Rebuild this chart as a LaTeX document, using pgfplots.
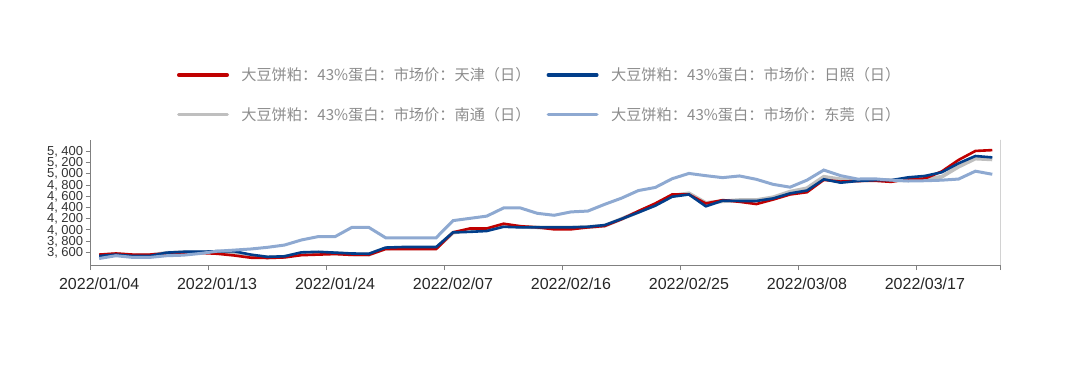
\documentclass[border=0pt]{standalone}
\usepackage{pgfplots}
\pgfplotsset{compat=1.18}
\usepackage{fontspec}
\setmainfont{Liberation Sans}
\newfontfamily\cjk{Noto Sans CJK SC}
\definecolor{cTJ}{HTML}{C00000}
\definecolor{cRZ}{HTML}{023E8A}
\definecolor{cNT}{HTML}{BFBFBF}
\definecolor{cDG}{HTML}{8EA9D1}
\definecolor{axgray}{HTML}{808080}
\definecolor{leggray}{HTML}{8C8C8C}
\begin{document}
\begin{tikzpicture}
\useasboundingbox (0,0) rectangle (1080pt,370pt);
\begin{axis}[
  at={(90.7pt,105pt)}, anchor=south west,
  scale only axis, width=910pt, height=125pt,
  xmin=-0.5, xmax=53.5, ymin=3375, ymax=5600,
  axis x line*=bottom, axis y line*=left,
  axis line style={axgray, line width=0.8pt},
  tick align=outside,
  major tick length=5pt,
  tick style={axgray, line width=0.8pt},
  xtick={-0.5,6.5,13.5,20.5,27.5,34.5,41.5,48.5,53.5},
  xticklabels={},
  extra x ticks={0,7,14,21,28,35,42,49},
  extra x tick labels={2022/01/04,2022/01/13,2022/01/24,2022/02/07,2022/02/16,2022/02/25,2022/03/08,2022/03/17},
  extra x tick style={major tick length=0pt, tick label style={font=\fontsize{16}{16}\selectfont, text=black!85, yshift=-9pt}},
  ytick={3600,3800,4000,4200,4400,4600,4800,5000,5200,5400},
  yticklabels={{3, 600},{3, 800},{4, 000},{4, 200},{4, 400},{4, 600},{4, 800},{5, 000},{5, 200},{5, 400}},
  y tick label style={font=\fontsize{13}{13}\selectfont, text=black!80, xshift=1pt,
    inner ysep=0pt, text height=9pt, text depth=0.5pt},
  legend columns=2,
  legend style={at={(0.4934,1.0)}, anchor=south, yshift=14pt, draw=none, fill=none,
    font=\cjk\fontsize{15.2}{15.2}\selectfont, text=leggray,
    /tikz/every even column/.append style={column sep=14pt},
    row sep=21pt},
  legend cell align=left,
  legend image code/.code={\draw[#1, line cap=round, line width=3.5pt] (1.75pt,0pt) -- (50.25pt,0pt); \path (61pt,0pt);},
]
\addplot[cNT, line width=3.8pt, forget plot] coordinates {
(0,3545)(1,3570)(2,3545)(3,3550)(4,3590)(5,3600)(6,3600)(7,3610)(8,3600)(9,3540)
(10,3510)(11,3520)(12,3580)(13,3590)(14,3585)(15,3565)(16,3560)(17,3670)(18,3675)(19,3675)
(20,3675)(21,3950)(22,3995)(23,4005)(24,4085)(25,4055)(26,4045)(27,4040)(28,4040)(29,4050)
(30,4075)(31,4195)(32,4320)(33,4455)(34,4610)(35,4650)(36,4480)(37,4510)(38,4530)(39,4530)
(40,4580)(41,4680)(42,4740)(43,4945)(44,4900)(45,4880)(46,4890)(47,4880)(48,4885)(49,4900)
(50,4945)(51,5125)(52,5270)(53,5255)};
\addplot[cTJ, line width=2.6pt] coordinates {
(0,3560)(1,3580)(2,3560)(3,3560)(4,3580)(5,3585)(6,3590)(7,3575)(8,3545)(9,3505)
(10,3500)(11,3510)(12,3550)(13,3560)(14,3570)(15,3555)(16,3555)(17,3660)(18,3660)(19,3660)
(20,3660)(21,3956)(22,4025)(23,4025)(24,4110)(25,4065)(26,4045)(27,4010)(28,4010)(29,4045)
(30,4070)(31,4190)(32,4335)(33,4470)(34,4630)(35,4630)(36,4470)(37,4530)(38,4500)(39,4460)
(40,4540)(41,4630)(42,4670)(43,4890)(44,4860)(45,4870)(46,4875)(47,4855)(48,4905)(49,4915)
(50,5040)(51,5245)(52,5405)(53,5420)};
\addlegendentry{大豆饼粕：43\%蛋白：市场价：天津（日）}
\addplot[cRZ, line width=2.6pt] coordinates {
(0,3535)(1,3560)(2,3535)(3,3535)(4,3595)(5,3610)(6,3610)(7,3620)(8,3620)(9,3560)
(10,3520)(11,3530)(12,3600)(13,3610)(14,3595)(15,3580)(16,3575)(17,3685)(18,3695)(19,3695)
(20,3695)(21,3955)(22,3965)(23,3980)(24,4055)(25,4045)(26,4045)(27,4045)(28,4045)(29,4055)
(30,4085)(31,4195)(32,4310)(33,4430)(34,4590)(35,4630)(36,4420)(37,4520)(38,4515)(39,4515)
(40,4560)(41,4650)(42,4700)(43,4900)(44,4840)(45,4870)(46,4885)(47,4885)(48,4935)(49,4960)
(50,5025)(51,5185)(52,5315)(53,5290)};
\addlegendentry{大豆饼粕：43\%蛋白：市场价：日照（日）}
\addlegendimage{cNT}
\addlegendentry{大豆饼粕：43\%蛋白：市场价：南通（日）}
\addplot[cDG, line width=3pt] coordinates {
(0,3490)(1,3540)(2,3510)(3,3510)(4,3540)(5,3550)(6,3580)(7,3620)(8,3640)(9,3660)
(10,3690)(11,3730)(12,3820)(13,3880)(14,3880)(15,4045)(16,4045)(17,3860)(18,3860)(19,3860)
(20,3860)(21,4165)(22,4205)(23,4245)(24,4390)(25,4390)(26,4295)(27,4260)(28,4320)(29,4335)
(30,4455)(31,4565)(32,4700)(33,4755)(34,4910)(35,5005)(36,4965)(37,4930)(38,4960)(39,4900)
(40,4810)(41,4760)(42,4885)(43,5065)(44,4965)(45,4905)(46,4910)(47,4885)(48,4870)(49,4875)
(50,4885)(51,4905)(52,5045)(53,4990)};
\addlegendentry{大豆饼粕：43\%蛋白：市场价：东莞（日）}
\draw[axgray, line width=0.8pt] (rel axis cs:1,1) -- (rel axis cs:1,0) -- ++(0,-5pt);
\end{axis}
\end{tikzpicture}
\end{document}
